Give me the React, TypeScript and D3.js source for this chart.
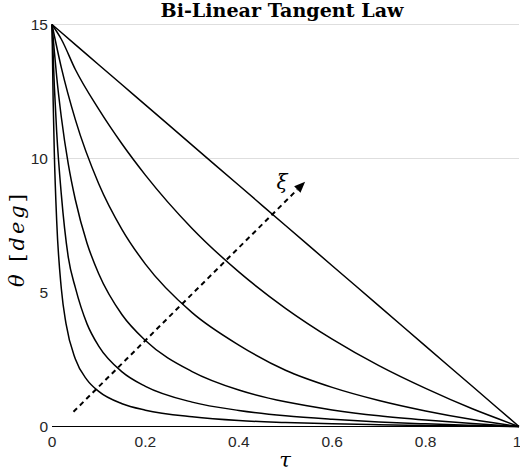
import React, { useEffect, useRef } from "react";
import * as d3 from "d3";

// tau sample positions for each curve
const tauSteep = [0, 0.0025, 0.005, 0.01, 0.02, 0.03, 0.05, 0.075, 0.1, 0.15, 0.2, 0.3, 0.4, 0.5, 0.6, 0.7, 0.8, 0.9, 1];
const tauMid = [0, 0.005, 0.01, 0.02, 0.035, 0.05, 0.075, 0.1, 0.15, 0.2, 0.3, 0.4, 0.5, 0.6, 0.7, 0.8, 0.9, 1];
const tauWide = [0, 0.02, 0.05, 0.1, 0.15, 0.2, 0.3, 0.4, 0.5, 0.6, 0.7, 0.8, 0.9, 1];

// theta [deg] for each curve, from straight line to the most curved one
const thetaLine = [15, 14.7, 14.25, 13.5, 12.75, 12, 10.5, 9, 7.5, 6, 4.5, 3, 1.5, 0];
const thetaC1 = [15, 14.45, 13.32, 11.84, 10.54, 9.38, 7.39, 5.77, 4.41, 3.26, 2.27, 1.42, 0.66, 0];
const thetaC2 = [15, 13.39, 11.45, 9.06, 7.35, 6.06, 4.25, 3.04, 2.1, 1.46, 0.97, 0.58, 0.26, 0];
const thetaC3 = [15, 14.0, 13.06, 11.54, 9.78, 8.46, 6.84, 5.7, 4.17, 3.21, 2.05, 1.36, 0.92, 0.62, 0.4, 0.24, 0.11, 0];
const thetaC4 = [15, 12.7, 11.0, 8.65, 6.3, 5.18, 3.83, 3.0, 2.04, 1.5, 0.91, 0.6, 0.4, 0.27, 0.17, 0.1, 0.045, 0];
const thetaC5 = [15, 12.14, 10.19, 7.69, 5.14, 3.84, 2.52, 1.74, 1.31, 0.85, 0.61, 0.36, 0.22, 0.15, 0.1, 0.065, 0.04, 0.018, 0];

const curves = [
  { tau: tauWide, theta: thetaLine },
  { tau: tauWide, theta: thetaC1 },
  { tau: tauWide, theta: thetaC2 },
  { tau: tauMid, theta: thetaC3 },
  { tau: tauMid, theta: thetaC4 },
  { tau: tauSteep, theta: thetaC5 },
];

const xTicks = [0, 0.2, 0.4, 0.6, 0.8, 1];
const yTicks = [0, 5, 10, 15];
const gridValues = [10, 15];

// dashed xi arrow: start and tip in data units
const arrowTau = [0.046, 0.542];
const arrowTheta = [0.55, 9.13];

const width = 520;
const height = 472;

const App: React.FC = () => {
  const svgRef = useRef<SVGSVGElement | null>(null);

  useEffect(() => {
    document.body.style.margin = "0";
    const svg = d3.select(svgRef.current);
    svg.selectAll("*").remove();

    const x = d3.scaleLinear().domain([0, 1]).range([52, 519]);
    const y = d3.scaleLinear().domain([0, 15]).range([426.5, 24.5]);

    // grid lines
    svg
      .append("g")
      .selectAll("line")
      .data(gridValues)
      .enter()
      .append("line")
      .attr("x1", x(0))
      .attr("x2", x(1))
      .attr("y1", (d) => y(d))
      .attr("y2", (d) => y(d))
      .attr("stroke", "#dedede")
      .attr("stroke-width", 1);

    // bottom axis line
    svg
      .append("line")
      .attr("x1", x(0))
      .attr("x2", x(1))
      .attr("y1", y(0))
      .attr("y2", y(0))
      .attr("stroke", "#000")
      .attr("stroke-width", 1);

    // tick labels
    svg
      .append("g")
      .selectAll("text")
      .data(xTicks)
      .enter()
      .append("text")
      .attr("x", (d) => (d === 1 ? x(d) - 2 : x(d)))
      .attr("y", 447)
      .attr("text-anchor", "middle")
      .attr("font-family", "'Liberation Sans', Arial, sans-serif")
      .attr("font-size", 15.5)
      .attr("fill", "#262626")
      .text((d) => d3.format("~g")(d));

    svg
      .append("g")
      .selectAll("text")
      .data(yTicks)
      .enter()
      .append("text")
      .attr("x", 48)
      .attr("y", (d) => y(d) + 5.5)
      .attr("text-anchor", "end")
      .attr("font-family", "'Liberation Sans', Arial, sans-serif")
      .attr("font-size", 15.5)
      .attr("fill", "#262626")
      .text((d) => d);

    // curves
    const line = d3
      .line<[number, number]>()
      .x((d) => x(d[0]))
      .y((d) => y(d[1]))
      .curve(d3.curveMonotoneX);

    svg
      .append("g")
      .selectAll("path")
      .data(curves)
      .enter()
      .append("path")
      .attr("d", (c) => line(c.tau.map((t, i) => [t, c.theta[i]] as [number, number])))
      .attr("fill", "none")
      .attr("stroke", "#000")
      .attr("stroke-width", 1.5);

    // dashed arrow for xi
    const x0 = x(arrowTau[0]);
    const y0 = y(arrowTheta[0]);
    const x1 = x(arrowTau[1]);
    const y1 = y(arrowTheta[1]);
    const ang = Math.atan2(y1 - y0, x1 - x0);
    const headLen = 11;
    const headW = 4.5;
    const bx = x1 - headLen * Math.cos(ang);
    const by = y1 - headLen * Math.sin(ang);

    svg
      .append("line")
      .attr("x1", x0)
      .attr("y1", y0)
      .attr("x2", bx)
      .attr("y2", by)
      .attr("stroke", "#000")
      .attr("stroke-width", 2)
      .attr("stroke-dasharray", "5 4");

    svg
      .append("polygon")
      .attr(
        "points",
        [
          [x1, y1],
          [bx - headW * Math.sin(ang), by + headW * Math.cos(ang)],
          [bx + headW * Math.sin(ang), by - headW * Math.cos(ang)],
        ]
          .map((p) => p.join(","))
          .join(" ")
      )
      .attr("fill", "#000");

    svg
      .append("text")
      .attr("x", 282)
      .attr("y", 189)
      .attr("text-anchor", "middle")
      .attr("font-family", "'DejaVu Serif', serif")
      .attr("font-style", "italic")
      .attr("font-size", 20)
      .text("ξ");

    // title
    svg
      .append("text")
      .attr("x", 282)
      .attr("y", 17)
      .attr("text-anchor", "middle")
      .attr("font-family", "'DejaVu Serif', serif")
      .attr("font-weight", "bold")
      .attr("font-size", 18)
      .attr("textLength", 243)
      .attr("lengthAdjust", "spacingAndGlyphs")
      .text("Bi-Linear Tangent Law");

    // axis labels
    svg
      .append("text")
      .attr("x", 285)
      .attr("y", 467)
      .attr("text-anchor", "middle")
      .attr("font-family", "'DejaVu Serif', serif")
      .attr("font-style", "italic")
      .attr("font-size", 21)
      .text("τ");

    const yl = svg
      .append("text")
      .attr("transform", "translate(24,239) rotate(-90)")
      .attr("text-anchor", "middle")
      .attr("font-family", "'DejaVu Serif', serif")
      .attr("font-size", 21)
      .attr("letter-spacing", 3);
    yl.append("tspan").attr("font-style", "italic").text("θ");
    yl.append("tspan").text(" [");
    yl.append("tspan").attr("font-style", "italic").text("deg");
    yl.append("tspan").text("]");
  }, []);

  return <svg ref={svgRef} width={width} height={height} style={{ display: "block" }}></svg>;
};

export default App;
